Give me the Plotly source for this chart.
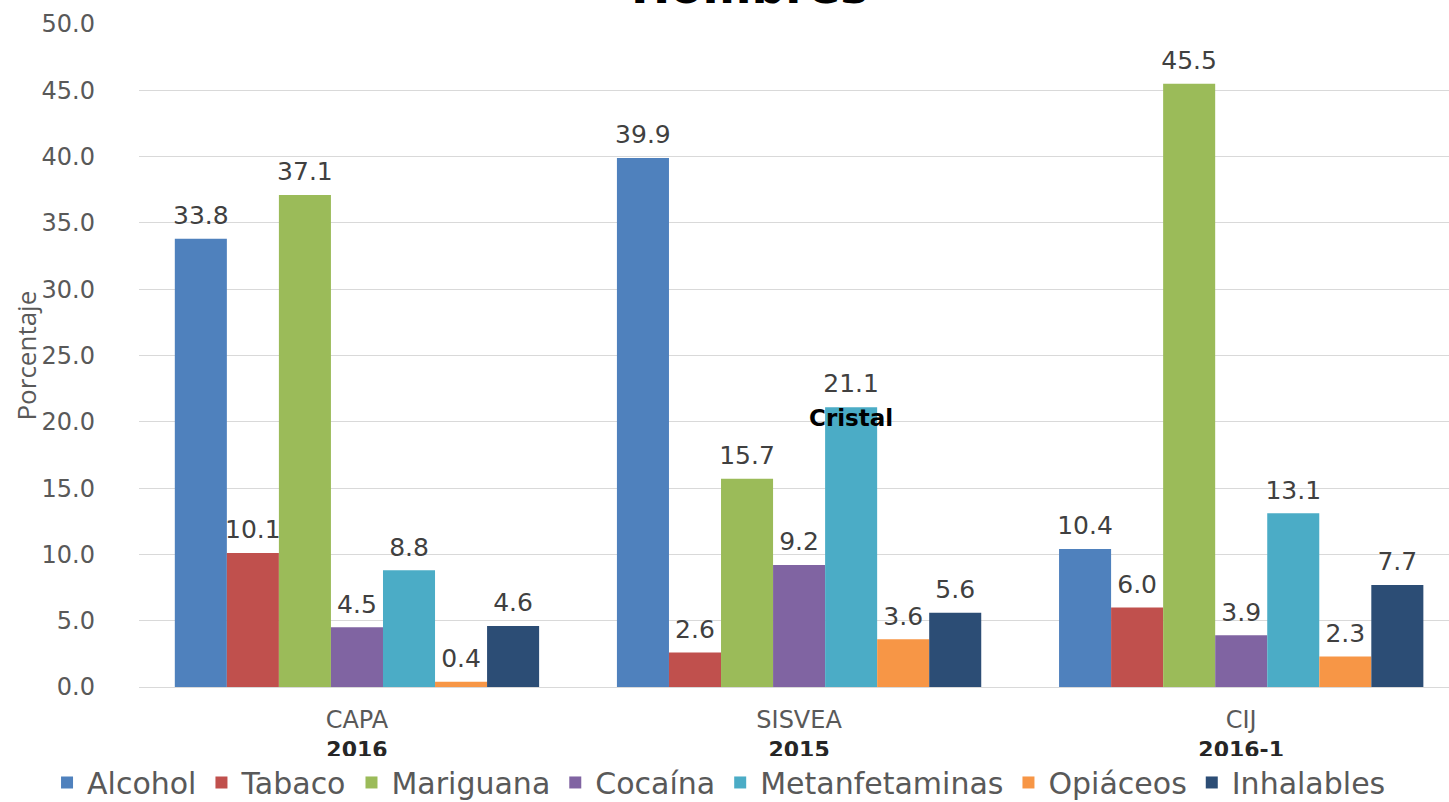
import plotly.graph_objects as go

categories = ["CAPA", "SISVEA", "CIJ"]
years = ["2016", "2015", "2016-1"]
series_names = ["Alcohol", "Tabaco", "Mariguana", "Cocaína", "Metanfetaminas", "Opiáceos", "Inhalables"]
alcohol = [33.8, 39.9, 10.4]
tabaco = [10.1, 2.6, 6.0]
mariguana = [37.1, 15.7, 45.5]
cocaina = [4.5, 9.2, 3.9]
metanfetaminas = [8.8, 21.1, 13.1]
opiaceos = [0.4, 3.6, 2.3]
inhalables = [4.6, 5.6, 7.7]
colors = ["#4F81BD", "#C0504D", "#9BBB59", "#8064A2", "#4BACC6", "#F79646", "#2C4D75"]
yticks = [0, 5, 10, 15, 20, 25, 30, 35, 40, 45, 50]
note_category = "SISVEA"
note_series = "Metanfetaminas"
note_text = "Cristal"
note_y = 20.1

values = [alcohol, tabaco, mariguana, cocaina, metanfetaminas, opiaceos, inhalables]

fig = go.Figure()
for i, (name, vals, col) in enumerate(zip(series_names, values, colors)):
    fig.add_trace(go.Bar(
        x=categories, y=vals, name=name, marker=dict(color=col, line=dict(width=0)),
        offsetgroup=str(i), alignmentgroup="a",
    ))
for i, (name, vals) in enumerate(zip(series_names, values)):
    fig.add_trace(go.Scatter(
        x=categories, y=vals, mode="markers+text", showlegend=False, hoverinfo="skip",
        offsetgroup=str(i), alignmentgroup="a",
        marker=dict(size=12, color="rgba(0,0,0,0)"),
        text=[f"{v:.1f}" for v in vals], textposition="top center", cliponaxis=False,
        textfont=dict(family="DejaVu Sans", size=25, color="#404040"),
    ))
fig.add_trace(go.Scatter(
    x=[note_category], y=[note_y], mode="text", showlegend=False, hoverinfo="skip",
    offsetgroup=str(series_names.index(note_series)), alignmentgroup="a",
    text=[f"<b>{note_text}</b>"], textposition="middle center", cliponaxis=False,
    textfont=dict(family="DejaVu Sans", size=23, color="#000000"),
))

ticktext = [f"<span style='color:#595959;font-size:24px'>{c}</span><br><b><span style='color:#262626'>{y}</span></b>"
            for c, y in zip(categories, years)]

fig.add_annotation(xref="paper", yref="paper", x=0.466, y=1.012, xanchor="center", yanchor="bottom",
                   text="<b>Hombres</b>", showarrow=False,
                   font=dict(family="DejaVu Sans", size=47, color="#000000"))

fig.add_annotation(xref="paper", yref="paper", x=-0.087, y=0.5, xanchor="center", yanchor="middle",
                   text="Porcentaje", textangle=-90, showarrow=False,
                   font=dict(family="Open Sans", size=26, color="#595959"))

fig.update_layout(
    width=1449, height=802,
    margin=dict(l=139, r=0, t=24, b=115, autoexpand=False),
    paper_bgcolor="white", plot_bgcolor="white",
    barmode="group", bargap=0.176, bargroupgap=0,
    scattermode="group", scattergap=0.176,
    xaxis=dict(tickmode="array", tickvals=categories, ticktext=ticktext, range=[-0.493, 2.47],
               tickfont=dict(family="DejaVu Sans", size=22, color="#595959"), showline=True,
               linecolor="#d9d9d9", ticks="", automargin=False, ticklabelstandoff=14),
    yaxis=dict(range=[0, 50], tickvals=yticks, tickformat=".1f", gridcolor="#d9d9d9",
               tickfont=dict(family="DejaVu Sans", size=24, color="#595959"), zeroline=False,
               ticklabelstandoff=43, automargin=False),
    legend=dict(orientation="h", x=-0.0702, xanchor="left", y=-0.144, yanchor="middle",
                font=dict(family="DejaVu Sans", size=30, color="#595959"), itemwidth=30,
                tracegroupgap=0),
    showlegend=True,
)

fig.write_html("out.html", config={"displayModeBar": False},
               post_script="document.body.style.margin='0';")
